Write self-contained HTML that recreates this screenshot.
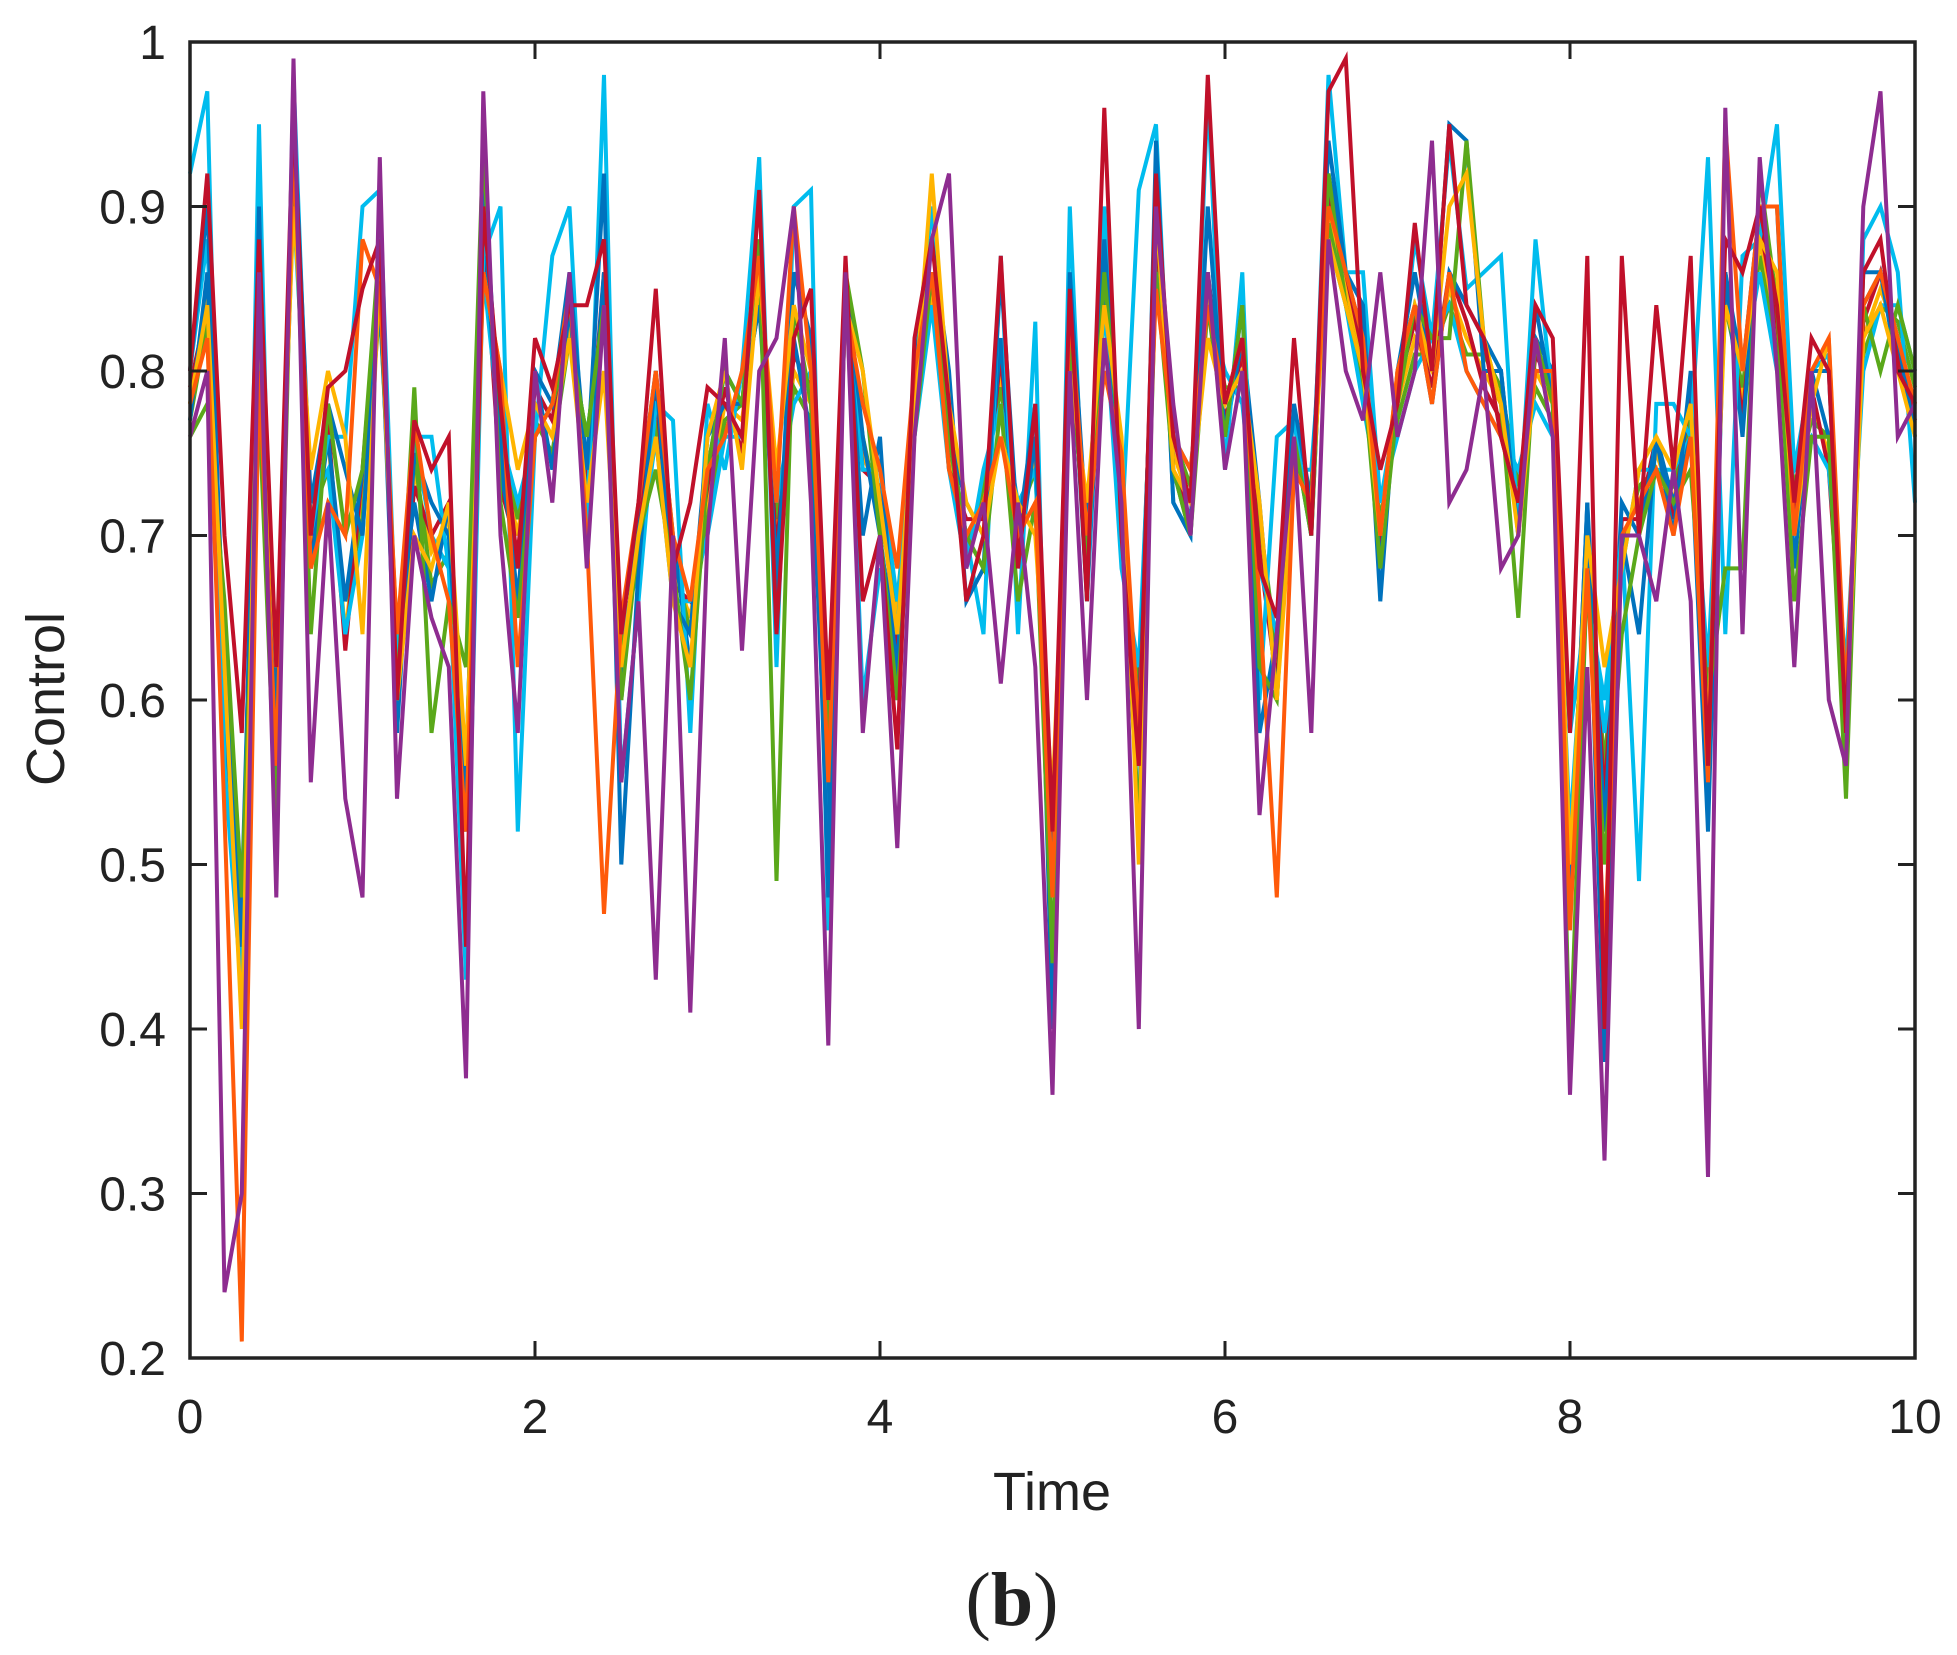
<!DOCTYPE html>
<html><head><meta charset="utf-8"><style>
html,body{margin:0;padding:0;background:#fff;}
svg{display:block;}
text{font-family:"Liberation Sans",Arial,sans-serif;fill:#222;}
</style></head><body>
<svg id="chart" width="1957" height="1655" viewBox="0 0 1957 1655" xmlns="http://www.w3.org/2000/svg">
<g id="series"></g>
<rect x="190" y="42" width="1725" height="1316" fill="none" stroke="#222" stroke-width="3.5"/>
<g id="ticks"></g>
<text x="1052" y="1510" font-size="54" text-anchor="middle">Time</text>
<text x="0" y="0" font-size="54" text-anchor="middle" transform="translate(64,699) rotate(-90)">Control</text>
<text x="1012" y="1625" font-size="76" text-anchor="middle" style="font-family:'Liberation Serif',serif;">(<tspan font-weight="bold">b</tspan>)</text>
</svg>
<script>
const xTicks=[0,2,4,6,8,10];
const yTicks=[0.2,0.3,0.4,0.5,0.6,0.7,0.8,0.9,1];
const yTickLabels=["0.2","0.3","0.4","0.5","0.6","0.7","0.8","0.9","1"];
const seriesColors=["#8E2C90","#C0102A","#FF5A0A","#FFB400","#5AA81A","#00BCEE","#0072BD","#0072BD","#00BCEE","#C0102A","#5AA81A","#FFB400"];
const sPurple=[0.76,0.80,0.24,0.30,0.86,0.48,0.99,0.55,0.72,0.54,0.48,0.93,0.54,0.70,0.65,0.62,0.37,0.97,0.70,0.58,0.80,0.72,0.86,0.68,0.84,0.55,0.66,0.43,0.70,0.41,0.70,0.82,0.63,0.80,0.82,0.90,0.72,0.39,0.86,0.58,0.70,0.51,0.76,0.88,0.92,0.68,0.72,0.61,0.72,0.62,0.36,0.80,0.60,0.82,0.72,0.40,0.90,0.78,0.70,0.86,0.74,0.80,0.53,0.64,0.76,0.58,0.88,0.80,0.77,0.86,0.76,0.80,0.94,0.72,0.74,0.80,0.68,0.70,0.82,0.76,0.36,0.62,0.32,0.70,0.70,0.66,0.74,0.66,0.31,0.96,0.64,0.93,0.80,0.62,0.80,0.60,0.56,0.90,0.97,0.76,0.78];
const sRed=[0.80,0.92,0.70,0.58,0.88,0.62,0.96,0.70,0.79,0.80,0.85,0.88,0.60,0.77,0.74,0.76,0.45,0.90,0.78,0.68,0.82,0.79,0.84,0.84,0.88,0.64,0.72,0.85,0.68,0.72,0.79,0.78,0.76,0.91,0.64,0.82,0.85,0.60,0.87,0.66,0.70,0.57,0.82,0.88,0.78,0.66,0.70,0.87,0.68,0.78,0.52,0.85,0.66,0.96,0.70,0.56,0.92,0.76,0.72,0.98,0.78,0.82,0.68,0.65,0.82,0.70,0.97,0.99,0.80,0.74,0.78,0.89,0.80,0.95,0.84,0.82,0.76,0.72,0.84,0.82,0.58,0.87,0.40,0.87,0.70,0.84,0.74,0.87,0.56,0.88,0.86,0.90,0.84,0.72,0.82,0.80,0.58,0.86,0.88,0.80,0.78];
const sOrange=[0.78,0.82,0.53,0.21,0.80,0.56,0.94,0.68,0.72,0.70,0.88,0.85,0.64,0.77,0.70,0.66,0.52,0.86,0.80,0.62,0.76,0.78,0.85,0.70,0.47,0.65,0.72,0.80,0.70,0.66,0.74,0.76,0.80,0.87,0.72,0.90,0.80,0.55,0.84,0.78,0.74,0.68,0.80,0.86,0.74,0.70,0.72,0.76,0.70,0.72,0.48,0.84,0.70,0.80,0.75,0.58,0.85,0.76,0.74,0.84,0.78,0.82,0.66,0.48,0.74,0.72,0.90,0.86,0.82,0.70,0.80,0.84,0.78,0.86,0.80,0.78,0.76,0.72,0.80,0.80,0.46,0.68,0.45,0.70,0.72,0.74,0.70,0.76,0.55,0.95,0.80,0.90,0.90,0.70,0.80,0.82,0.60,0.84,0.86,0.82,0.78];
const sYellow=[0.78,0.84,0.62,0.40,0.84,0.62,0.90,0.74,0.80,0.76,0.64,0.86,0.60,0.70,0.68,0.72,0.56,0.86,0.80,0.74,0.78,0.76,0.82,0.72,0.80,0.62,0.70,0.76,0.66,0.62,0.76,0.80,0.74,0.86,0.74,0.84,0.80,0.60,0.84,0.80,0.72,0.64,0.78,0.92,0.78,0.72,0.70,0.76,0.72,0.70,0.54,0.80,0.72,0.84,0.76,0.50,0.90,0.74,0.72,0.82,0.78,0.80,0.72,0.60,0.74,0.72,0.88,0.84,0.80,0.70,0.80,0.84,0.80,0.90,0.92,0.82,0.78,0.70,0.80,0.80,0.50,0.70,0.62,0.68,0.74,0.76,0.74,0.78,0.58,0.84,0.80,0.88,0.86,0.70,0.78,0.82,0.58,0.82,0.84,0.80,0.76];
const sGreen=[0.76,0.78,0.66,0.48,0.78,0.52,0.94,0.64,0.78,0.70,0.74,0.88,0.60,0.79,0.58,0.66,0.62,0.94,0.72,0.65,0.76,0.78,0.82,0.76,0.84,0.60,0.70,0.74,0.68,0.60,0.74,0.80,0.78,0.88,0.49,0.84,0.78,0.58,0.86,0.80,0.70,0.60,0.76,0.86,0.76,0.70,0.68,0.78,0.66,0.72,0.44,0.82,0.68,0.86,0.74,0.52,0.86,0.74,0.70,0.84,0.76,0.84,0.62,0.60,0.76,0.70,0.92,0.84,0.80,0.68,0.78,0.84,0.82,0.82,0.94,0.82,0.78,0.65,0.82,0.78,0.38,0.68,0.50,0.64,0.70,0.74,0.72,0.74,0.60,0.68,0.68,0.92,0.84,0.66,0.76,0.76,0.54,0.84,0.80,0.84,0.80];
const sCyan=[0.92,0.97,0.56,0.42,0.95,0.50,0.98,0.70,0.76,0.76,0.90,0.91,0.62,0.76,0.76,0.68,0.43,0.87,0.90,0.52,0.76,0.87,0.90,0.70,0.98,0.55,0.66,0.78,0.77,0.58,0.78,0.74,0.80,0.93,0.62,0.90,0.91,0.46,0.86,0.60,0.68,0.64,0.80,0.90,0.76,0.70,0.64,0.87,0.64,0.83,0.42,0.90,0.66,0.90,0.70,0.91,0.95,0.72,0.70,0.97,0.74,0.86,0.60,0.76,0.77,0.70,0.98,0.86,0.86,0.72,0.78,0.88,0.82,0.94,0.85,0.86,0.87,0.70,0.88,0.78,0.58,0.66,0.60,0.70,0.49,0.78,0.78,0.76,0.93,0.64,0.87,0.88,0.95,0.74,0.80,0.81,0.56,0.88,0.90,0.86,0.72];
const sBlue=[0.80,0.90,0.62,0.45,0.90,0.52,0.96,0.72,0.78,0.74,0.70,0.86,0.58,0.75,0.72,0.70,0.55,0.92,0.76,0.66,0.80,0.78,0.86,0.74,0.92,0.50,0.68,0.80,0.66,0.64,0.76,0.78,0.78,0.88,0.66,0.86,0.82,0.48,0.86,0.70,0.76,0.60,0.80,0.88,0.80,0.66,0.68,0.86,0.70,0.78,0.40,0.86,0.70,0.88,0.72,0.52,0.94,0.72,0.70,0.90,0.76,0.84,0.58,0.64,0.78,0.72,0.94,0.86,0.84,0.66,0.80,0.86,0.80,0.95,0.94,0.80,0.80,0.70,0.84,0.78,0.48,0.72,0.38,0.70,0.64,0.76,0.72,0.76,0.52,0.86,0.80,0.90,0.90,0.68,0.80,0.80,0.58,0.86,0.86,0.82,0.76];
const sBlue2=[0.77,0.86,0.58,0.48,0.84,0.58,0.93,0.68,0.76,0.66,0.74,0.84,0.64,0.72,0.66,0.72,0.52,0.90,0.74,0.68,0.80,0.74,0.84,0.72,0.86,0.60,0.72,0.80,0.70,0.62,0.74,0.80,0.78,0.84,0.68,0.82,0.76,0.52,0.86,0.76,0.70,0.62,0.80,0.86,0.76,0.72,0.70,0.82,0.68,0.76,0.48,0.84,0.66,0.86,0.72,0.58,0.90,0.74,0.70,0.86,0.76,0.82,0.72,0.60,0.76,0.70,0.92,0.86,0.82,0.68,0.80,0.84,0.78,0.86,0.84,0.82,0.80,0.70,0.82,0.80,0.48,0.72,0.52,0.72,0.70,0.76,0.70,0.80,0.58,0.86,0.76,0.90,0.84,0.70,0.80,0.76,0.58,0.84,0.86,0.80,0.78];
const sCyan2=[0.80,0.88,0.62,0.44,0.80,0.62,0.90,0.72,0.74,0.64,0.70,0.86,0.60,0.76,0.70,0.68,0.54,0.86,0.76,0.72,0.76,0.78,0.82,0.76,0.84,0.64,0.68,0.76,0.66,0.66,0.70,0.76,0.76,0.86,0.72,0.78,0.80,0.56,0.84,0.74,0.74,0.66,0.76,0.84,0.74,0.68,0.74,0.78,0.72,0.74,0.52,0.80,0.70,0.84,0.68,0.62,0.86,0.76,0.74,0.84,0.80,0.78,0.68,0.64,0.74,0.74,0.88,0.84,0.78,0.72,0.76,0.80,0.82,0.84,0.80,0.78,0.76,0.74,0.78,0.76,0.52,0.68,0.58,0.68,0.74,0.74,0.74,0.76,0.62,0.84,0.80,0.86,0.80,0.74,0.76,0.74,0.62,0.80,0.84,0.84,0.80];
const sRed2=[0.79,0.84,0.64,0.46,0.84,0.58,0.94,0.68,0.77,0.63,0.74,0.87,0.60,0.73,0.70,0.72,0.53,0.89,0.73,0.69,0.79,0.77,0.84,0.73,0.86,0.61,0.71,0.79,0.67,0.66,0.73,0.79,0.75,0.86,0.69,0.81,0.79,0.54,0.86,0.74,0.73,0.63,0.79,0.86,0.74,0.71,0.71,0.81,0.69,0.76,0.49,0.83,0.67,0.86,0.71,0.59,0.89,0.74,0.71,0.86,0.77,0.81,0.69,0.61,0.76,0.71,0.91,0.86,0.81,0.69,0.79,0.83,0.79,0.86,0.83,0.79,0.77,0.71,0.81,0.79,0.49,0.71,0.54,0.71,0.71,0.76,0.71,0.79,0.59,0.86,0.77,0.89,0.83,0.71,0.79,0.74,0.59,0.83,0.86,0.81,0.77];
const sGreen2=[0.77,0.83,0.61,0.47,0.81,0.61,0.91,0.71,0.74,0.66,0.71,0.84,0.63,0.75,0.67,0.69,0.56,0.87,0.76,0.71,0.77,0.75,0.82,0.76,0.84,0.63,0.69,0.77,0.69,0.64,0.71,0.77,0.78,0.84,0.71,0.79,0.77,0.56,0.84,0.76,0.71,0.66,0.77,0.84,0.76,0.69,0.73,0.79,0.71,0.74,0.51,0.81,0.69,0.84,0.69,0.61,0.87,0.76,0.73,0.84,0.79,0.79,0.71,0.63,0.74,0.73,0.89,0.84,0.79,0.71,0.77,0.81,0.81,0.84,0.81,0.81,0.79,0.73,0.79,0.77,0.51,0.69,0.56,0.69,0.73,0.74,0.73,0.77,0.61,0.84,0.79,0.87,0.81,0.73,0.77,0.76,0.61,0.81,0.84,0.83,0.79];
const sYellow2=[0.78,0.85,0.59,0.43,0.83,0.59,0.92,0.69,0.76,0.64,0.73,0.85,0.61,0.74,0.69,0.71,0.54,0.88,0.75,0.70,0.78,0.76,0.83,0.74,0.85,0.62,0.70,0.78,0.68,0.65,0.72,0.78,0.77,0.85,0.70,0.80,0.78,0.55,0.85,0.75,0.72,0.65,0.78,0.85,0.75,0.70,0.72,0.80,0.70,0.75,0.50,0.82,0.68,0.85,0.70,0.60,0.88,0.75,0.72,0.85,0.78,0.80,0.70,0.62,0.75,0.72,0.90,0.85,0.80,0.70,0.78,0.82,0.80,0.85,0.82,0.80,0.78,0.72,0.80,0.78,0.50,0.70,0.55,0.70,0.72,0.75,0.72,0.78,0.60,0.85,0.78,0.88,0.82,0.72,0.78,0.75,0.60,0.82,0.85,0.82,0.78];
const seriesNames=["purple","red","orange","yellow","green","cyan","blue","blue-2","cyan-2","red-2","green-2","yellow-2"];
const seriesData=[sPurple,sRed,sOrange,sYellow,sGreen,sCyan,sBlue,sBlue2,sCyan2,sRed2,sGreen2,sYellow2];
const X0=190,X1=1915,Y0=1358,Y1=42,XMIN=0,XMAX=10,YMIN=0.2,YMAX=1;
function xs(v){return X0+(v-XMIN)/(XMAX-XMIN)*(X1-X0);}
function ys(v){return Y0-(v-YMIN)/(YMAX-YMIN)*(Y0-Y1);}
const NS="http://www.w3.org/2000/svg";
const sg=document.getElementById('series');
const drawOrder=[11,10,9,8,7,5,6,4,3,2,1,0];
drawOrder.forEach(function(k){
  const d=seriesData[k];
  const n=d.length;
  const pts=d.map(function(v,i){return xs(XMIN+i*(XMAX-XMIN)/(n-1)).toFixed(1)+","+ys(v).toFixed(1);}).join(" ");
  const pl=document.createElementNS(NS,'polyline');
  pl.setAttribute('points',pts);
  pl.setAttribute('fill','none');
  pl.setAttribute('stroke',seriesColors[k]);
  pl.setAttribute('stroke-width','4');
  pl.setAttribute('stroke-linejoin','miter');
  
  
  sg.appendChild(pl);
});
const tg=document.getElementById('ticks');
xTicks.forEach(function(v){
  const x=xs(v);
  [[Y0,Y0-17],[Y1,Y1+17]].forEach(function(p){
    const l=document.createElementNS(NS,'line');
    l.setAttribute('x1',x);l.setAttribute('x2',x);l.setAttribute('y1',p[0]);l.setAttribute('y2',p[1]);
    l.setAttribute('stroke','#222');l.setAttribute('stroke-width','3');
    
    
    tg.appendChild(l);
  });
  const t=document.createElementNS(NS,'text');
  t.setAttribute('x',x);t.setAttribute('y',Y0+75);t.setAttribute('font-size','48');t.setAttribute('text-anchor','middle');
  t.textContent=String(v);
  
  
  tg.appendChild(t);
});
yTicks.forEach(function(v,i){
  const y=ys(v);
  [[X0,X0+17],[X1,X1-17]].forEach(function(p){
    const l=document.createElementNS(NS,'line');
    l.setAttribute('x1',p[0]);l.setAttribute('x2',p[1]);l.setAttribute('y1',y);l.setAttribute('y2',y);
    l.setAttribute('stroke','#222');l.setAttribute('stroke-width','3');
    
    
    tg.appendChild(l);
  });
  const t=document.createElementNS(NS,'text');
  t.setAttribute('x',166);t.setAttribute('y',y+17);t.setAttribute('font-size','48');t.setAttribute('text-anchor','end');
  t.textContent=yTickLabels[i];
  
  
  tg.appendChild(t);
});
</script>
</body></html>
